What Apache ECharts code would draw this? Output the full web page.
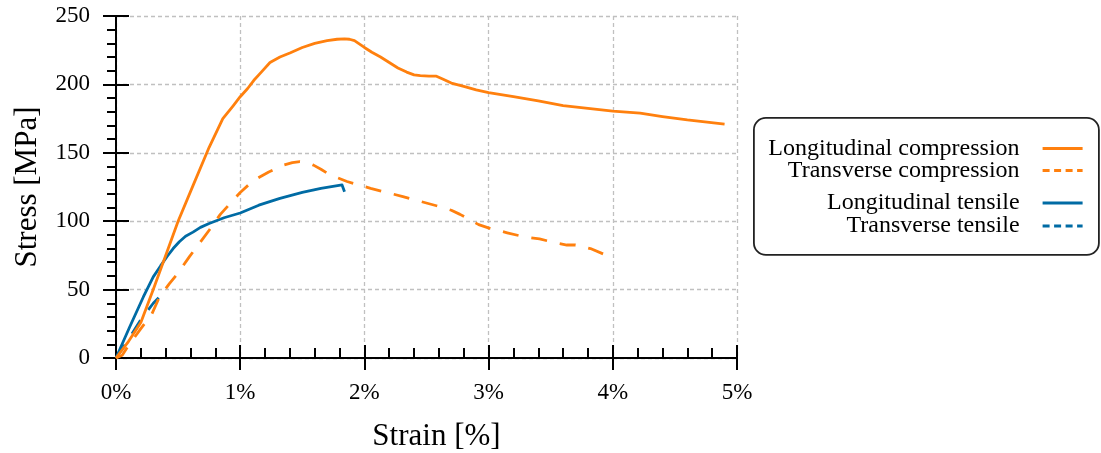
<!DOCTYPE html>
<html>
<head>
<meta charset="utf-8">
<script src="https://cdn.jsdelivr.net/npm/echarts@6/dist/echarts.min.js"></script>
<style>
html,body{margin:0;padding:0;background:#fff;}
#chart{width:1101px;height:453px;}
</style>
</head>
<body>
<div id="chart"></div>
<script>
// ---- data (strain in %, stress in MPa) ----
var seriesNames = ['Longitudinal compression', 'Transverse compression', 'Longitudinal tensile', 'Transverse tensile'];

var lcStrain = [0, 0.1, 0.2, 0.3, 0.4, 0.5, 0.62, 0.75, 0.86, 0.94, 1.0, 1.06, 1.11, 1.17, 1.24, 1.32, 1.4, 1.5, 1.6, 1.7, 1.78, 1.84, 1.88, 1.92, 2.0, 2.06, 2.13, 2.2, 2.27, 2.34, 2.4, 2.45, 2.52, 2.58, 2.63, 2.7, 2.8, 2.9, 3.0, 3.2, 3.4, 3.6, 3.8, 4.0, 4.22, 4.4, 4.6, 4.9];
var lcStress = [0, 12, 26, 50, 75, 100, 126, 154, 175, 184, 191, 197, 203, 209, 216, 220, 223, 227, 230, 232, 233, 233.3, 233, 232, 227, 223.5, 220, 216, 212, 209, 207, 206.4, 206, 206, 204, 201, 198.5, 196, 194, 191, 188, 184.5, 182.5, 180.5, 179, 176.5, 174, 171];

var tcStrain = [0, 0.05, 0.1, 0.2, 0.29, 0.35, 0.43, 0.5, 0.59, 0.66, 0.75, 0.84, 0.92, 1.0, 1.11, 1.23, 1.35, 1.42, 1.48, 1.54, 1.59, 1.65, 1.72, 1.86, 2.05, 2.31, 2.58, 2.7, 2.77, 2.85, 2.92, 3.01, 3.15, 3.28, 3.41, 3.55, 3.63, 3.7, 3.82, 3.95];
var tcStress = [0, 2, 9, 21.5, 32.4, 44.6, 54.4, 62.2, 73.9, 82.4, 93.4, 105, 113, 121, 130, 136, 141, 142.8, 143.5, 143, 141, 138, 134, 129, 124, 118, 111.3, 108, 105, 101, 97.5, 94.8, 91.5, 88.7, 87, 84, 82.6, 82.6, 80, 75];

var ltStrain = [0, 0.11, 0.22, 0.3, 0.36, 0.41, 0.46, 0.51, 0.56, 0.62, 0.68, 0.75, 0.87, 1.0, 1.15, 1.32, 1.5, 1.65, 1.82, 1.835, 1.84];
var ltStress = [0, 22.7, 44.6, 59.3, 67.5, 74, 80, 85, 89, 92, 95.5, 98.3, 102.5, 106, 111.7, 116.7, 121, 124, 126.5, 126, 121.5];

var ttStrain = [0, 0.1, 0.2, 0.3, 0.37];
var ttStress = [0, 13.5, 28, 40, 46.5];

var xTicks = [0, 1, 2, 3, 4, 5];
var yTicks = [0, 50, 100, 150, 200, 250];

function pairs(xs, ys) { return xs.map(function (x, i) { return [x, ys[i]]; }); }

var ORANGE = '#FF800E';
var BLUE = '#006BA4';
var FONT = 'Liberation Serif';
var LW = 2.8;

var chart = echarts.init(document.getElementById('chart'), null, { renderer: 'canvas' });

function legendFor(name, top, color, dashed) {
  return {
    data: [name],
    right: 17,
    top: top,
    orient: 'horizontal',
    align: 'right',
    padding: 0,
    itemWidth: 40,
    itemHeight: 14,
    selectedMode: false,
    z: 10,
    textStyle: { fontFamily: FONT, fontSize: 24, color: '#000', lineHeight: 26, padding: [0, 18, 0, 0] },
    lineStyle: { color: color, width: LW, type: dashed ? [7, 4.5] : 'solid' },
    itemStyle: { opacity: 0 }
  };
}

var option = {
  animation: false,
  backgroundColor: '#fff',
  grid: { left: 116, right: 364, top: 16, bottom: 95, containLabel: false, outerBoundsMode: 'none' },
  graphic: [{
    type: 'rect', left: 753, top: 117, z: 0,
    shape: { width: 345, height: 137, r: 12 },
    style: { fill: '#fff', stroke: '#222', lineWidth: 1.8 }
  }],
  legend: [
    legendFor(seriesNames[0], 135.5, ORANGE, false),
    legendFor(seriesNames[1], 157.5, ORANGE, true),
    legendFor(seriesNames[2], 190, BLUE, false),
    legendFor(seriesNames[3], 213, BLUE, true)
  ],
  xAxis: [{
    type: 'value', min: xTicks[0], max: xTicks[xTicks.length - 1], interval: 1,
    position: 'bottom',
    name: 'Strain [%]', nameLocation: 'middle', nameGap: 63,
    nameTextStyle: { fontFamily: FONT, fontSize: 31, color: '#000', padding: [0, 0, 0, 20] },
    axisLine: { show: true, onZero: false, lineStyle: { color: '#000', width: 2 } },
    axisTick: { show: true, inside: false, length: 12, lineStyle: { color: '#000', width: 2 } },
    minorTick: { show: false },
    axisLabel: { fontFamily: FONT, fontSize: 23, color: '#000', margin: 23, formatter: function (v) { return v + '%'; } },
    splitLine: { show: true, lineStyle: { color: '#c0c0c0', width: 1.3, type: [4, 3] } }
  }, {
    type: 'value', min: xTicks[0], max: xTicks[xTicks.length - 1], interval: 1,
    position: 'bottom',
    axisLine: { show: false, onZero: false },
    axisTick: { show: true, inside: true, length: 13, lineStyle: { color: '#000', width: 2 } },
    minorTick: { show: true, splitNumber: 5, length: 10, lineStyle: { color: '#000', width: 2 } },
    axisLabel: { show: false },
    splitLine: { show: false }
  }],
  yAxis: [{
    type: 'value', min: yTicks[0], max: yTicks[yTicks.length - 1], interval: 50,
    position: 'left',
    name: 'Stress [MPa]', nameLocation: 'middle', nameGap: 73, nameRotate: 90,
    nameTextStyle: { fontFamily: FONT, fontSize: 31, color: '#000' },
    axisLine: { show: true, onZero: false, lineStyle: { color: '#000', width: 2 } },
    axisTick: { show: true, inside: false, length: 13, lineStyle: { color: '#000', width: 2 } },
    minorTick: { show: true, splitNumber: 5, length: 9, lineStyle: { color: '#000', width: 2 } },
    axisLabel: { fontFamily: FONT, fontSize: 23, color: '#000', margin: 26 },
    splitLine: { show: true, lineStyle: { color: '#c0c0c0', width: 1.3, type: [4, 3] } }
  }, {
    type: 'value', min: yTicks[0], max: yTicks[yTicks.length - 1], interval: 50,
    position: 'left',
    axisLine: { show: false, onZero: false },
    axisTick: { show: true, inside: true, length: 13, lineStyle: { color: '#000', width: 2 } },
    minorTick: { show: false },
    axisLabel: { show: false },
    splitLine: { show: false }
  }],
  series: [{
    name: seriesNames[2], type: 'line', xAxisIndex: 0, yAxisIndex: 0,
    data: pairs(ltStrain, ltStress), symbol: 'none', showSymbol: false,
    smooth: false, color: BLUE,
    lineStyle: { color: BLUE, width: LW, join: 'round' }
  }, {
    name: seriesNames[3], type: 'line', xAxisIndex: 0, yAxisIndex: 0,
    data: pairs(ttStrain, ttStress), symbol: 'none', showSymbol: false,
    smooth: false, color: BLUE,
    lineStyle: { color: BLUE, width: LW, type: [16, 13] }
  }, {
    name: seriesNames[1], type: 'line', xAxisIndex: 0, yAxisIndex: 0,
    data: pairs(tcStrain, tcStress), symbol: 'none', showSymbol: false,
    smooth: false, color: ORANGE,
    lineStyle: { color: ORANGE, width: LW, type: [16, 13], join: 'round' }
  }, {
    name: seriesNames[0], type: 'line', xAxisIndex: 0, yAxisIndex: 0,
    data: pairs(lcStrain, lcStress), symbol: 'none', showSymbol: false,
    smooth: false, color: ORANGE,
    lineStyle: { color: ORANGE, width: LW, join: 'round' }
  }]
};
chart.setOption(option);
</script>
</body>
</html>
